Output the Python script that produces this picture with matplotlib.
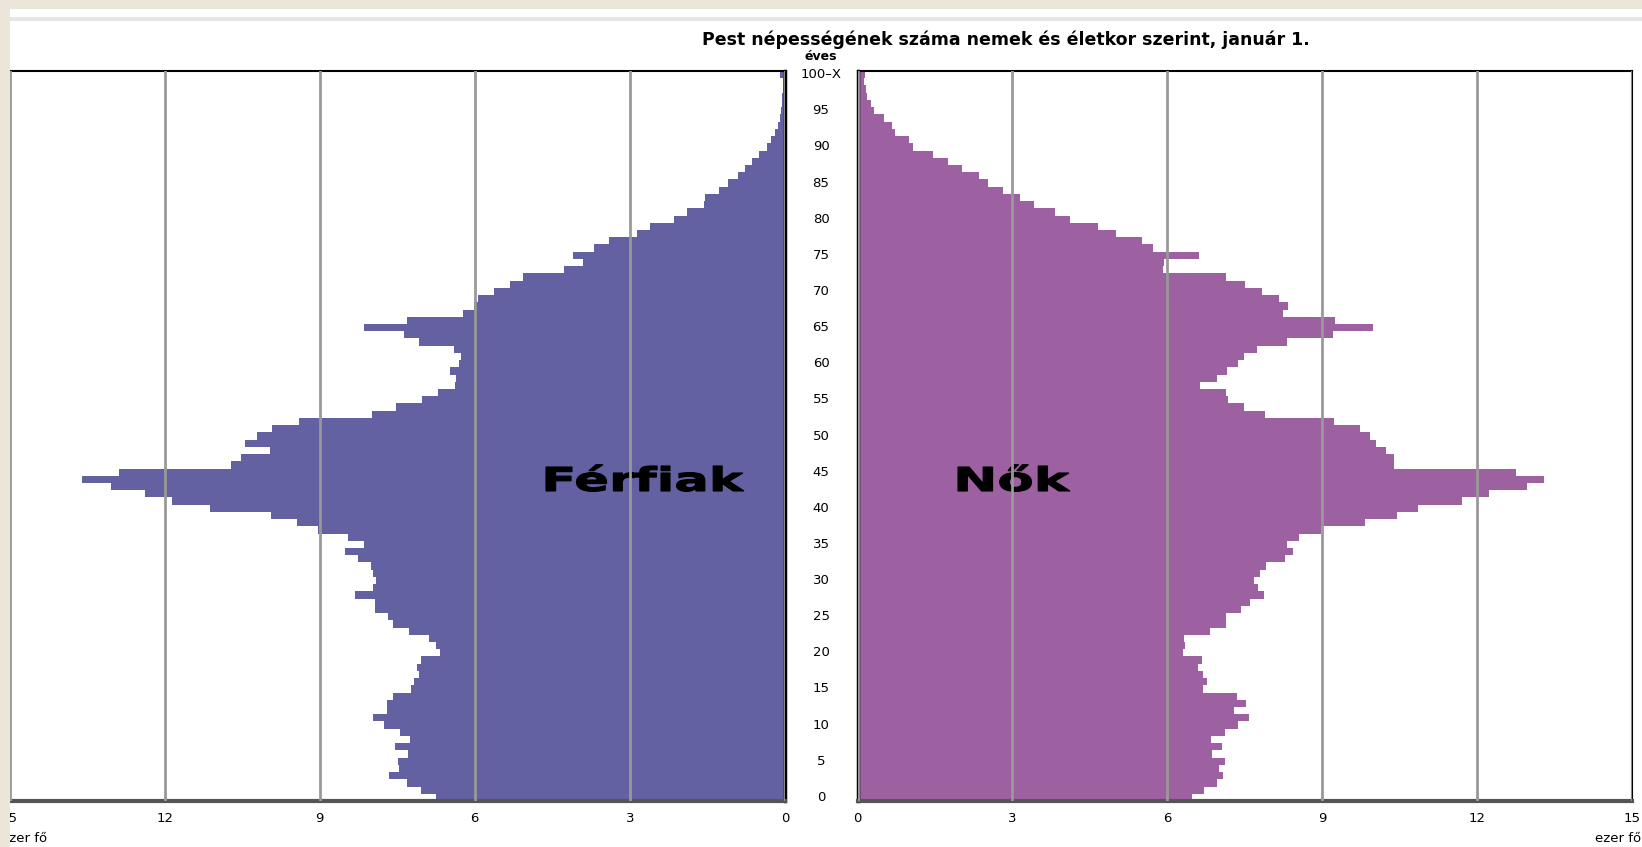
import matplotlib
matplotlib.use("Agg")
import matplotlib.pyplot as plt
import matplotlib.transforms as mtransforms
from matplotlib.patches import Rectangle, PathPatch
from matplotlib.lines import Line2D
from matplotlib.textpath import TextPath
from matplotlib.font_manager import FontProperties

# age 0 .. 99, and 100-X
ages = list(range(101))
age_ticks = list(range(0, 101, 5))
age_labels = [str(a) for a in range(0, 100, 5)] + ["100\u2013X"]

# ezer fő
men = [6.76, 7.05, 7.32, 7.65, 7.46, 7.49, 7.29, 7.55, 7.25, 7.45,
       7.76, 7.97, 7.70, 7.70, 7.59, 7.23, 7.18, 7.08, 7.11, 7.05,
       6.67, 6.75, 6.88, 7.27, 7.59, 7.67, 7.93, 7.93, 8.32, 7.97,
       7.91, 7.97, 8.00, 8.25, 8.52, 8.15, 8.45, 9.04, 9.43, 9.95,
       11.13, 11.86, 12.38, 13.04, 13.60, 12.88, 10.72, 10.52, 9.97, 10.45,
       10.22, 9.93, 9.40, 7.99, 7.53, 7.02, 6.72, 6.38, 6.36, 6.48,
       6.31, 6.27, 6.40, 7.08, 7.36, 8.14, 7.32, 6.23, 6.01, 5.94,
       5.63, 5.32, 5.06, 4.27, 3.91, 4.11, 3.70, 3.41, 2.86, 2.61,
       2.15, 1.90, 1.56, 1.55, 1.27, 1.11, 0.91, 0.77, 0.64, 0.50,
       0.35, 0.27, 0.20, 0.13, 0.10, 0.08, 0.06, 0.05, 0.04, 0.03, 0.09]

women = [6.47, 6.71, 6.96, 7.07, 7.00, 7.12, 6.86, 7.05, 6.84, 7.12,
         7.37, 7.59, 7.29, 7.53, 7.35, 6.70, 6.77, 6.69, 6.59, 6.67,
         6.30, 6.34, 6.32, 6.82, 7.14, 7.14, 7.43, 7.61, 7.87, 7.76,
         7.68, 7.80, 7.91, 8.28, 8.43, 8.32, 8.55, 8.98, 9.83, 10.44,
         10.86, 11.71, 12.24, 12.97, 13.29, 12.76, 10.39, 10.39, 10.24, 10.05,
         9.92, 9.74, 9.23, 7.89, 7.48, 7.17, 7.14, 6.64, 6.97, 7.16,
         7.37, 7.48, 7.73, 8.31, 9.20, 9.99, 9.25, 8.25, 8.34, 8.16,
         7.83, 7.50, 7.14, 5.91, 5.93, 6.61, 5.72, 5.51, 5.00, 4.65,
         4.11, 3.83, 3.42, 3.14, 2.81, 2.53, 2.36, 2.02, 1.76, 1.47,
         1.07, 1.00, 0.73, 0.67, 0.51, 0.32, 0.26, 0.19, 0.17, 0.12, 0.14]

x_ticks = [0, 3, 6, 9, 12, 15]

W, H = 1642, 847
fig = plt.figure(figsize=(W / 100, H / 100), dpi=100)
fig.patch.set_facecolor("white")

def fx(px):
    return px / W

def fy(py):
    return 1 - py / H

top, bottom = 71, 801
axL = fig.add_axes([fx(9.5), fy(bottom), fx(785 - 9.5), fy(top) - fy(bottom)])
axR = fig.add_axes([fx(857.5), fy(bottom), fx(1632 - 857.5), fy(top) - fy(bottom)])

for ax, vals, col in [(axL, men, "#6361a2"), (axR, women, "#9d60a1")]:
    ax.barh(ages, vals, height=1.0, color=col, linewidth=0, zorder=1)
    ax.set_ylim(-0.5, 100.5)
    ax.set_xlim(0, 15)
    ax.set_xticks(x_ticks)
    ax.set_xticklabels([str(t) for t in x_ticks], fontsize=9.5)
    ax.tick_params(axis="x", length=0, pad=8)
    ax.set_yticks([])
    ax.set_axisbelow(False)
    ax.grid(axis="x", color="#999999", linewidth=2, zorder=2)
    ax.spines["top"].set_linewidth(1.5)
    ax.spines["bottom"].set_color("#555555")
    ax.spines["bottom"].set_linewidth(3)

axL.invert_xaxis()
axL.spines["left"].set_visible(False)
axL.spines["right"].set_linewidth(2.5)
axR.spines["left"].set_linewidth(2.5)
axR.spines["right"].set_linewidth(1.5)

# age labels between the two panels
tr = mtransforms.blended_transform_factory(fig.transFigure, axL.transData)
for a, lab in zip(age_ticks, age_labels):
    fig.text(fx(821), a, lab, transform=tr, ha="center", va="center", fontsize=9.5)

fig.text(fx(1006), fy(40), "Pest népességének száma nemek és életkor szerint, január 1.",
         ha="center", va="center", fontsize=12.5, fontweight="bold")
fig.text(fx(821), fy(57), "éves", ha="center", va="center", fontsize=9, fontweight="bold")


# wide, stretched panel labels, drawn under the grid lines
fp = FontProperties(family="DejaVu Sans", weight="bold")
cap = TextPath((0, 0), "F", size=1, prop=fp).get_extents().height

def big_label(ax, s, cx, cy, width, cap_px=24):
    tp = TextPath((0, 0), s, size=1, prop=fp)
    ext = tp.get_extents()
    sy = cap_px / cap
    sx = width / ext.width
    t = (mtransforms.Affine2D()
         .translate(-ext.x0 - ext.width / 2, -cap / 2)
         .scale(sx, sy)
         .translate(cx, H - cy))
    p = PathPatch(tp, transform=t, facecolor="black", edgecolor="black",
                  linewidth=0.8, zorder=1.5, clip_on=False)
    ax.add_artist(p)

big_label(axL, "Férfiak", 645, 479, 198)
big_label(axR, "Nők", 1014, 479, 112)

fig.text(fx(1), fy(838), "ezer fő", ha="left", va="center", fontsize=9.5)
fig.text(fx(1641), fy(838), "ezer fő", ha="right", va="center", fontsize=9.5)

# page frame: beige border, thin gray line
fig.add_artist(Line2D([fx(10), 1], [fy(19), fy(19)], transform=fig.transFigure,
                      color="#e6e6e6", linewidth=3, zorder=9))
fig.add_artist(Rectangle((0, 0), fx(10), 1, transform=fig.transFigure,
                         facecolor="#ece6da", edgecolor="none", zorder=10))
fig.add_artist(Rectangle((0, fy(9)), 1, fx(9) * W / H, transform=fig.transFigure,
                         facecolor="#ece6da", edgecolor="none", zorder=10))

fig.savefig("out.png", dpi=100)
